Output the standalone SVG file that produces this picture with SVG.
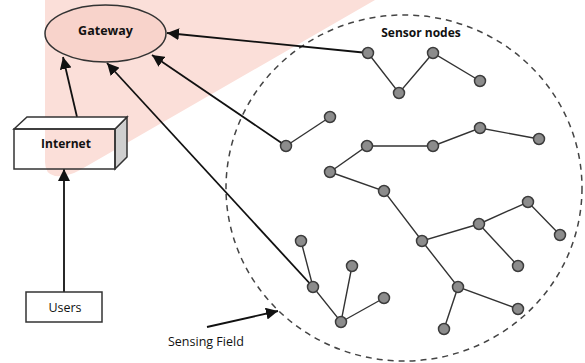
<svg xmlns="http://www.w3.org/2000/svg" width="585" height="363" viewBox="0 0 585 363">
<style>
.lbl{font-family:"Open Sans","Liberation Sans",sans-serif;fill:#111;}
.b{font-weight:bold;}
.edge{stroke:#333;stroke-width:1.4;fill:none;}
.arr{stroke:#111;stroke-width:1.8;fill:none;marker-end:url(#ah);}
.sn{fill:#8c8c8c;stroke:#3c3c3c;stroke-width:1.5;}
</style>
<defs>
<marker id="ah" markerUnits="userSpaceOnUse" markerWidth="13" markerHeight="12" refX="12" refY="6" orient="auto">
<path d="M0,0 L12,6 L0,12 z" fill="#111"/>
</marker>
</defs>
<rect width="585" height="363" fill="#fff"/>
<path d="M45,0 L375,0 L80,170 Q68,177 55,176 Q45,174 45,162 Z" fill="#fbdfd9"/>
<g id="field">
<ellipse cx="404" cy="188" rx="178" ry="173" fill="none" stroke="#444" stroke-width="1.5" stroke-dasharray="6 5"/>
<text class="lbl b" x="421" y="37" font-size="12" text-anchor="middle">Sensor nodes</text>
<text class="lbl" x="168" y="346" font-size="12.5">Sensing Field</text>
</g>
<g id="connectors">
<line class="arr" x1="368" y1="53" x2="167" y2="33"/>
<line class="arr" x1="286" y1="146" x2="152" y2="55"/>
<line class="arr" x1="313" y1="287" x2="107" y2="63"/>
<line class="arr" x1="77" y1="117" x2="63" y2="57"/>
<line class="arr" x1="64" y1="292" x2="64" y2="169"/>
<line class="arr" x1="207" y1="327" x2="278" y2="311"/>
<polyline class="edge" points="368,53 399,93 433,53 480,81"/>
<polyline class="edge" points="286,146 330,117"/>
<polyline class="edge" points="330,172 367,146 433,146 480,128 539,139"/>
<polyline class="edge" points="330,172 384,191 422,241 479,224 528,202 560,235"/>
<polyline class="edge" points="479,224 518,266"/>
<polyline class="edge" points="422,241 458,287 518,309"/>
<polyline class="edge" points="458,287 444,329"/>
<polyline class="edge" points="301,241 313,287 341,322 352,266"/>
<polyline class="edge" points="341,322 384,298"/>
</g>
<g id="gateway">
<ellipse cx="105.5" cy="33.5" rx="60.5" ry="28.5" fill="#f8d3cb" stroke="#333" stroke-width="1.5"/>
<text class="lbl b" x="105.5" y="34.5" font-size="12.5" text-anchor="middle">Gateway</text>
</g>
<g id="internet">
<path d="M115,129 L127,117 L127,157 L115,169 Z" fill="#cfcfcf" stroke="#333" stroke-width="1.5"/>
<path d="M14,129 L27,117 L127,117 L115,129 Z" fill="#fff" stroke="#333" stroke-width="1.5"/>
<rect x="14" y="129" width="101" height="40" fill="none" stroke="#333" stroke-width="1.5"/>
<text class="lbl b" x="66" y="148" font-size="12" text-anchor="middle">Internet</text>
</g>
<g id="users">
<rect x="26" y="292" width="76" height="30" fill="#fff" stroke="#333" stroke-width="1.5"/>
<text class="lbl" x="65" y="311.5" font-size="12.5" text-anchor="middle">Users</text>
</g>
<g id="sensors">
<circle class="sn" cx="368" cy="53" r="5.5"/>
<circle class="sn" cx="399" cy="93" r="5.5"/>
<circle class="sn" cx="433" cy="53" r="5.5"/>
<circle class="sn" cx="480" cy="81" r="5.5"/>
<circle class="sn" cx="286" cy="146" r="5.5"/>
<circle class="sn" cx="330" cy="117" r="5.5"/>
<circle class="sn" cx="367" cy="146" r="5.5"/>
<circle class="sn" cx="433" cy="146" r="5.5"/>
<circle class="sn" cx="480" cy="128" r="5.5"/>
<circle class="sn" cx="539" cy="139" r="5.5"/>
<circle class="sn" cx="330" cy="172" r="5.5"/>
<circle class="sn" cx="384" cy="191" r="5.5"/>
<circle class="sn" cx="422" cy="241" r="5.5"/>
<circle class="sn" cx="479" cy="224" r="5.5"/>
<circle class="sn" cx="528" cy="202" r="5.5"/>
<circle class="sn" cx="560" cy="235" r="5.5"/>
<circle class="sn" cx="518" cy="266" r="5.5"/>
<circle class="sn" cx="458" cy="287" r="5.5"/>
<circle class="sn" cx="518" cy="309" r="5.5"/>
<circle class="sn" cx="444" cy="329" r="5.5"/>
<circle class="sn" cx="301" cy="241" r="5.5"/>
<circle class="sn" cx="313" cy="287" r="5.5"/>
<circle class="sn" cx="352" cy="266" r="5.5"/>
<circle class="sn" cx="341" cy="322" r="5.5"/>
<circle class="sn" cx="384" cy="298" r="5.5"/>
</g>
</svg>
